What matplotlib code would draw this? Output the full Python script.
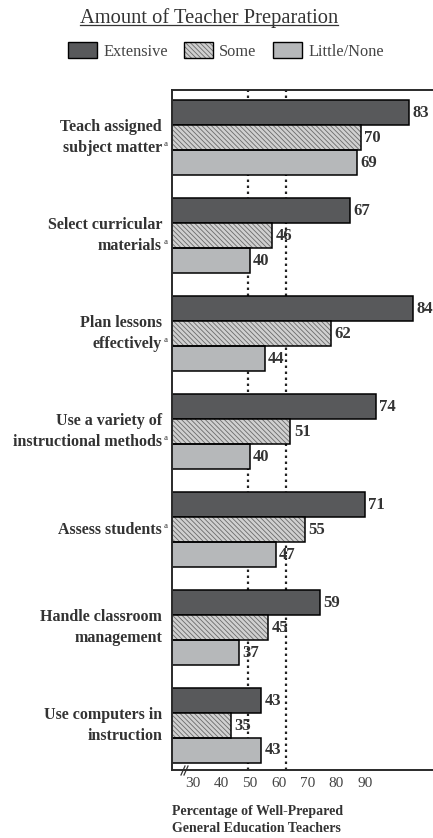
import numpy as np
import matplotlib.pyplot as plt
from matplotlib.patches import Patch
from matplotlib.legend_handler import HandlerTuple
from matplotlib.lines import Line2D

plt.rcParams['font.family'] = 'Liberation Serif'
plt.rcParams['hatch.linewidth'] = 0.6

# data
categories = ['Teach assigned\nsubject matter', 'Select curricular\nmaterials',
              'Plan lessons\neffectively', 'Use a variety of\ninstructional methods',
              'Assess students', 'Handle classroom\nmanagement',
              'Use computers in\ninstruction']
footnote = [True, True, True, True, True, False, False]
extensive = [83, 67, 84, 74, 71, 59, 43]
some = [70, 46, 62, 51, 55, 45, 35]
little = [69, 40, 44, 40, 47, 37, 43]
series_names = ['Extensive', 'Some', 'Little/None']
tick_labels = ['30', '40', '50', '60', '70', '80', '90']
ref_lines = [39.5, 49.8]

c_ext = '#58595b'
c_some = '#d0d0d0'
c_hatch = '#6a6a6a'
c_little = '#b6b8ba'
txt = '#333333'
hatch = '\\' * 7
PX = 0.72  # points per pixel at dpi 100

fig = plt.figure(figsize=(4.33, 8.38), dpi=100)
ax = fig.add_axes([172/433, 1-770/838, 261/433, 680/838])

y = np.arange(len(categories))
h = 0.255

# dotted reference lines behind the bars
for xv in ref_lines:
    ax.axvline(xv, color='#222222', linestyle=(0, (1.1, 1.6)), lw=1.6, zorder=0.5)

ax.barh(y - h, extensive, height=h, color=c_ext, edgecolor='black', lw=1.1, zorder=2)
ax.barh(y, some, height=h, color=c_some, edgecolor=c_hatch, hatch=hatch, lw=0, zorder=2)
ax.barh(y, some, height=h, fill=False, edgecolor='black', lw=1.1, zorder=2.1)
ax.barh(y + h, little, height=h, color=c_little, edgecolor='black', lw=1.1, zorder=2)

for off, vals in [(-h, extensive), (0, some), (h, little)]:
    for yi, v in zip(y, vals):
        ax.annotate(str(v), xy=(v, yi + off), xytext=(2.5, 0), textcoords='offset points',
                    ha='left', va='center', fontsize=12, fontweight='bold', color=txt)

# category labels, with footnote marks
for yi, lab, fn in zip(y, categories, footnote):
    ax.annotate(lab, xy=(0, yi), xycoords=ax.get_yaxis_transform(),
                xytext=(-10*PX, 0), textcoords='offset points',
                ha='right', va='center', multialignment='right', linespacing=1.35,
                fontsize=11.5, fontweight='bold', color=txt)
    if fn:
        dy = -10 if '\n' in lab else 0
        ax.annotate('a', xy=(0, yi), xycoords=ax.get_yaxis_transform(),
                    xytext=(-8*PX, (dy + 4)*PX), textcoords='offset points',
                    ha='left', va='center', fontsize=6.5, color=txt)

ax.set_xlim(19, 89.5)
ax.set_ylim(len(categories) - 1 + 0.454, -0.485)
ax.set_xticks(np.linspace(24.6, 71.1, len(tick_labels)))
ax.set_xticklabels(tick_labels)
ax.tick_params(axis='x', length=0, pad=5, labelsize=11, labelcolor='#444444')
ax.set_yticks([])
ax.spines['right'].set_visible(False)
for s in ['left', 'top', 'bottom']:
    ax.spines[s].set_linewidth(1.4)
    ax.spines[s].set_color('#2a2a2a')

# axis break marks
for x0 in [9, 12]:
    ax.plot([x0/261, (x0+4)/261], [-5/680, 4/680], transform=ax.transAxes,
            color='#333333', lw=0.9, clip_on=False)

fig.text(172/433, 1-820/838, 'Percentage of Well-Prepared\nGeneral Education Teachers',
         ha='left', va='center', fontsize=10, fontweight='bold', color=txt, linespacing=1.4)

# title with underline
title = fig.text(209/433, 1-23/838, 'Amount of Teacher Preparation', ha='center',
                 va='baseline', fontsize=14.8, color=txt)

# legend
p_ext = Patch(facecolor=c_ext, edgecolor='black', lw=1.0)
p_some = (Patch(facecolor=c_some, edgecolor=c_hatch, hatch=hatch, lw=0),
          Patch(fill=False, edgecolor='black', lw=1.0))
p_little = Patch(facecolor=c_little, edgecolor='black', lw=1.0)
fig.legend([p_ext, p_some, p_little], series_names, loc='center',
           bbox_to_anchor=(226/433, 1-51/838), ncol=3, frameon=False,
           handlelength=1.77, handleheight=1.1, handletextpad=0.37, columnspacing=1.0,
           fontsize=11.8, labelcolor='#444444',
           handler_map={tuple: HandlerTuple(ndivide=1, pad=0)})

fig.canvas.draw()
bb = title.get_window_extent().transformed(fig.transFigure.inverted())
fig.add_artist(Line2D([bb.x0, bb.x1], [1-25.5/838]*2, transform=fig.transFigure,
                      color=txt, lw=0.9))

fig.savefig('out.png', dpi=100)
